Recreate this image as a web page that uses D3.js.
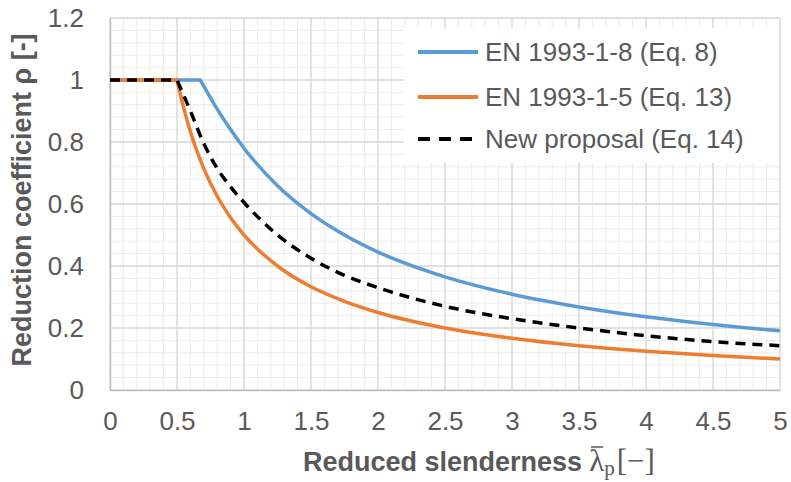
<!DOCTYPE html>
<html>
<head>
<meta charset="utf-8">
<script src="https://cdn.jsdelivr.net/npm/d3@7"></script>
<style>
  body { margin: 0; background: #fff; }
  svg text { font-family: "Liberation Sans", Arial, sans-serif; fill: #595959; }
</style>
</head>
<body>
<div id="wrapper"></div>
<script>
// values
const lambdaEn18 = [0, 0.673, 0.7, 0.8, 0.9, 1, 1.25, 1.5, 1.75, 2, 2.5, 3, 3.5, 4, 4.5, 5];
const rhoEn18 = [1, 1, 0.98, 0.906, 0.84, 0.78, 0.659, 0.569, 0.5, 0.445, 0.365, 0.309, 0.268, 0.236, 0.211, 0.191];

const lambdaEn15 = [0, 0.5, 0.55, 0.6, 0.7, 0.8, 0.9, 1, 1.25, 1.5, 1.75, 2, 2.5, 3, 3.5, 4, 4.5, 5];
const rhoEn15 = [1, 1, 0.91, 0.833, 0.714, 0.625, 0.556, 0.5, 0.4, 0.333, 0.286, 0.25, 0.2, 0.167, 0.143, 0.125, 0.111, 0.1];

const lambdaNew = [0, 0.5, 0.6, 0.7, 0.8, 0.9, 1, 1.25, 1.5, 1.75, 2, 2.5, 3, 3.5, 4, 4.5, 5];
const rhoNew = [1, 1, 0.9, 0.795, 0.715, 0.655, 0.605, 0.5, 0.425, 0.37, 0.33, 0.27, 0.23, 0.2, 0.175, 0.156, 0.143];

const xTicks = [0, 0.5, 1, 1.5, 2, 2.5, 3, 3.5, 4, 4.5, 5];
const yTicks = [0, 0.2, 0.4, 0.6, 0.8, 1, 1.2];
const legendLabels = ["EN 1993-1-8 (Eq. 8)", "EN 1993-1-5 (Eq. 13)", "New proposal (Eq. 14)"];

const series = [
  { name: legendLabels[0], x: lambdaEn18, y: rhoEn18, color: "#5b9bd5", dash: null },
  { name: legendLabels[1], x: lambdaEn15, y: rhoEn15, color: "#ed7d31", dash: null },
  { name: legendLabels[2], x: lambdaNew, y: rhoNew, color: "#000000", dash: "10,7" },
];

const dimensions = {
  width: 791,
  height: 482,
  margin: { top: 18, right: 11, bottom: 92, left: 110 },
};
dimensions.boundedWidth = dimensions.width - dimensions.margin.left - dimensions.margin.right;
dimensions.boundedHeight = dimensions.height - dimensions.margin.top - dimensions.margin.bottom;

const wrapper = d3.select("#wrapper").append("svg")
  .attr("width", dimensions.width)
  .attr("height", dimensions.height);

const bounds = wrapper.append("g")
  .attr("transform", `translate(${dimensions.margin.left},${dimensions.margin.top})`);

const xScale = d3.scaleLinear().domain([0, 5]).range([0, dimensions.boundedWidth]);
const yScale = d3.scaleLinear().domain([0, 1.2]).range([dimensions.boundedHeight, 0]);

// minor grid
const xMinor = d3.range(0, 51).map((i) => i / 10);
const yMinor = d3.range(0, 31).map((i) => i * 0.04);
bounds.append("g").selectAll("line").data(xMinor).join("line")
  .attr("x1", (d) => xScale(d)).attr("x2", (d) => xScale(d))
  .attr("y1", 0).attr("y2", dimensions.boundedHeight)
  .attr("stroke", "#ececec").attr("stroke-width", 1);
bounds.append("g").selectAll("line").data(yMinor).join("line")
  .attr("y1", (d) => yScale(d)).attr("y2", (d) => yScale(d))
  .attr("x1", 0).attr("x2", dimensions.boundedWidth)
  .attr("stroke", "#ececec").attr("stroke-width", 1);

// major grid
bounds.append("g").selectAll("line").data(xTicks).join("line")
  .attr("x1", (d) => xScale(d)).attr("x2", (d) => xScale(d))
  .attr("y1", 0).attr("y2", dimensions.boundedHeight)
  .attr("stroke", "#d9d9d9").attr("stroke-width", 1.3);
bounds.append("g").selectAll("line").data(yTicks).join("line")
  .attr("y1", (d) => yScale(d)).attr("y2", (d) => yScale(d))
  .attr("x1", 0).attr("x2", dimensions.boundedWidth)
  .attr("stroke", "#d9d9d9").attr("stroke-width", 1.3);

// axes
const xAxisGenerator = d3.axisBottom(xScale).tickValues(xTicks).tickSize(0).tickPadding(22)
  .tickFormat((d) => String(d));
const xAxis = bounds.append("g")
  .attr("transform", `translate(0,${dimensions.boundedHeight})`)
  .call(xAxisGenerator);
xAxis.select(".domain").attr("stroke", "#bfbfbf").attr("stroke-width", 1.5);
xAxis.selectAll("text").attr("font-size", 26).attr("fill", "#595959");

const yAxisGenerator = d3.axisLeft(yScale).tickValues(yTicks).tickSize(0).tickPadding(26)
  .tickFormat((d) => String(+d.toFixed(1)));
const yAxis = bounds.append("g").call(yAxisGenerator);
yAxis.select(".domain").attr("stroke", "#bfbfbf").attr("stroke-width", 1.5);
yAxis.selectAll("text").attr("font-size", 26).attr("fill", "#595959");

// curves: flat part straight, the decay part smooth
const flatLine = d3.line().x((d) => xScale(d[0])).y((d) => yScale(d[1]));
const curveLine = d3.line().x((d) => xScale(d[0])).y((d) => yScale(d[1])).curve(d3.curveMonotoneX);

series.forEach((s) => {
  const pts = s.x.map((x, i) => [x, s.y[i]]);
  const kink = pts.findIndex((p, i) => i > 0 && p[1] === 1 && pts[i + 1][1] < 1);
  const d = flatLine(pts.slice(0, kink + 1)) + curveLine(pts.slice(kink)).replace(/^M/, "L");
  bounds.append("path")
    .attr("d", d)
    .attr("fill", "none")
    .attr("stroke", s.color)
    .attr("stroke-width", 3.5)
    .attr("stroke-dasharray", s.dash);
});

// legend
const legend = wrapper.append("g");
legend.append("rect")
  .attr("x", 404).attr("y", 28).attr("width", 375).attr("height", 135)
  .attr("fill", "#fff");
const rowY = [52, 97, 139];
series.forEach((s, i) => {
  legend.append("line")
    .attr("x1", 418).attr("x2", 478)
    .attr("y1", rowY[i]).attr("y2", rowY[i])
    .attr("stroke", s.color).attr("stroke-width", 4)
    .attr("stroke-dasharray", s.dash ? "12,9" : null);
  legend.append("text")
    .attr("x", 485).attr("y", rowY[i])
    .attr("dy", "0.35em")
    .attr("font-size", 26)
    .text(s.name);
});

// axis titles
wrapper.append("text")
  .attr("transform", `translate(31,${dimensions.margin.top + 182}) rotate(-90)`)
  .attr("text-anchor", "middle")
  .attr("font-size", 27)
  .attr("font-weight", "bold")
  .text("Reduction coefficient ρ [-]");

const serif = "'Liberation Serif', 'Times New Roman', serif";
const titleY = 471;
const boldPart = wrapper.append("text")
  .attr("x", 303).attr("y", titleY)
  .attr("font-size", 27)
  .attr("font-weight", "bold")
  .text("Reduced slenderness");
const lambdaX = 303 + boldPart.node().getComputedTextLength() + 7;
const lambdaText = wrapper.append("text")
  .attr("x", lambdaX).attr("y", titleY)
  .style("font-family", serif)
  .attr("font-size", 31)
  .text("λ");
const lambdaW = lambdaText.node().getComputedTextLength();
wrapper.append("line")
  .attr("x1", lambdaX + 2).attr("x2", lambdaX + lambdaW - 1)
  .attr("y1", titleY - 24).attr("y2", titleY - 24)
  .attr("stroke", "#595959").attr("stroke-width", 1.5);
const rest = wrapper.append("text")
  .attr("x", lambdaX + lambdaW).attr("y", titleY)
  .style("font-family", serif)
  .attr("font-size", 31);
rest.append("tspan").attr("font-size", 21).attr("dy", 4).text("p");
rest.append("tspan").attr("dy", -4).attr("dx", 2).text("[−]");
</script>
</body>
</html>
